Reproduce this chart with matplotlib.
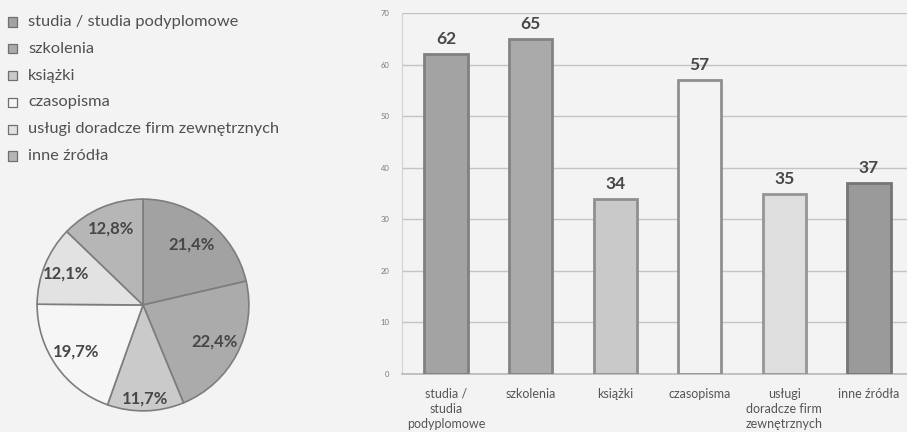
import matplotlib
matplotlib.use("Agg")
import matplotlib.pyplot as plt
from matplotlib.patches import Rectangle
import numpy as np

plt.rcParams['font.family'] = ['Lato', 'DejaVu Sans']

# Źródła wiedzy: legenda, wartości słupków i udziały procentowe
categories = [
    "studia / studia podyplomowe",
    "szkolenia",
    "książki",
    "czasopisma",
    "usługi doradcze firm zewnętrznych",
    "inne źródła",
]
bar_ticklabels = [
    "studia /\nstudia\npodyplomowe",
    "szkolenia",
    "książki",
    "czasopisma",
    "usługi\ndoradcze firm\nzewnętrznych",
    "inne źródła",
]
bar_values = [62, 65, 34, 57, 35, 37]
pie_shares = [21.4, 22.4, 11.7, 19.7, 12.1, 12.8]
y_ticks = [0, 10, 20, 30, 40, 50, 60, 70]

fills = ["#a3a3a3", "#aaaaaa", "#c9c9c9", "#f3f3f3", "#dedede", "#9a9a9a"]
pie_fills = ["#a2a2a2", "#ababab", "#cacaca", "#f6f6f6", "#e2e2e2", "#b6b6b6"]
edges = ["#808080", "#838383", "#8f8f8f", "#909090", "#959595", "#757575"]
bg = "#f3f3f3"
text_dark = "#474747"

fig = plt.figure(figsize=(9.07, 4.32), dpi=100, facecolor=bg)
W, H = 907, 432

# ---- bar chart ----
ax = fig.add_axes([402 / W, 1 - 374 / H, 1 - 402 / W, (374 - 13) / H])
ax.set_facecolor(bg)
x = np.arange(len(bar_values))
ax.bar(x, bar_values, width=0.51, color=fills, edgecolor=edges, linewidth=2.0, zorder=3)
for xi, v in zip(x, bar_values):
    ax.annotate(f"{v}", (xi, v), xytext=(0, 5), textcoords="offset points",
                ha="center", va="bottom", fontsize=12.5, fontweight="bold",
                color=text_dark, zorder=4)
ax.set_xlim(-0.52, 5.45)
ax.set_ylim(0, 70)
ax.set_yticks(y_ticks)
ax.set_yticklabels([str(t) for t in y_ticks], fontsize=5.5, color="#7a7a7a")
ax.yaxis.grid(True, color="#c4c4c4", linewidth=1.0, zorder=0)
ax.set_xticks(x)
ax.set_xticklabels(bar_ticklabels, fontsize=9, color="#555555", linespacing=1.3)
ax.tick_params(axis="both", length=0)
ax.tick_params(axis="y", pad=9)
ax.tick_params(axis="x", pad=10)
for s in ["top", "right"]:
    ax.spines[s].set_visible(False)
ax.spines["left"].set_color("#d2d2d2")
ax.spines["bottom"].set_color("#b8b8b8")
ax.spines["bottom"].set_linewidth(1.2)

# ---- pie chart ----
cx, cy, r = 143, 305, 108
pax = fig.add_axes([(cx - r) / W, 1 - (cy + r) / H, 2 * r / W, 2 * r / H])
pax.set_facecolor("none")
wedges, _ = pax.pie(pie_shares, colors=pie_fills, startangle=90, counterclock=False,
                    wedgeprops=dict(edgecolor="#7d7d7d", linewidth=1.2))
label_radius = [0.73, 0.76, 0.88, 0.77, 0.78, 0.78]
for w, share, lr in zip(wedges, pie_shares, label_radius):
    ang = np.deg2rad((w.theta1 + w.theta2) / 2)
    pax.text(lr * np.cos(ang), lr * np.sin(ang), f"{share:.1f}%".replace(".", ","),
             ha="center", va="center", fontsize=12, fontweight="bold", color=text_dark)
pax.set_xlim(-1.02, 1.02)
pax.set_ylim(-1.02, 1.02)
pax.set_aspect("equal")

# ---- legend ----
row0, step = 22, 26.8
for i, (name, fc) in enumerate(zip(categories, pie_fills)):
    yc = row0 + i * step
    fig.patches.append(Rectangle((8 / W, 1 - (yc + 4.5) / H), 9 / W, 9 / H,
                                 transform=fig.transFigure, facecolor=fc,
                                 edgecolor="#6f6f6f", linewidth=0.9))
    fig.text(28 / W, 1 - yc / H, name, fontsize=11.8, color="#505050",
             ha="left", va="center")

fig.savefig("out.png", dpi=100, facecolor=bg)
